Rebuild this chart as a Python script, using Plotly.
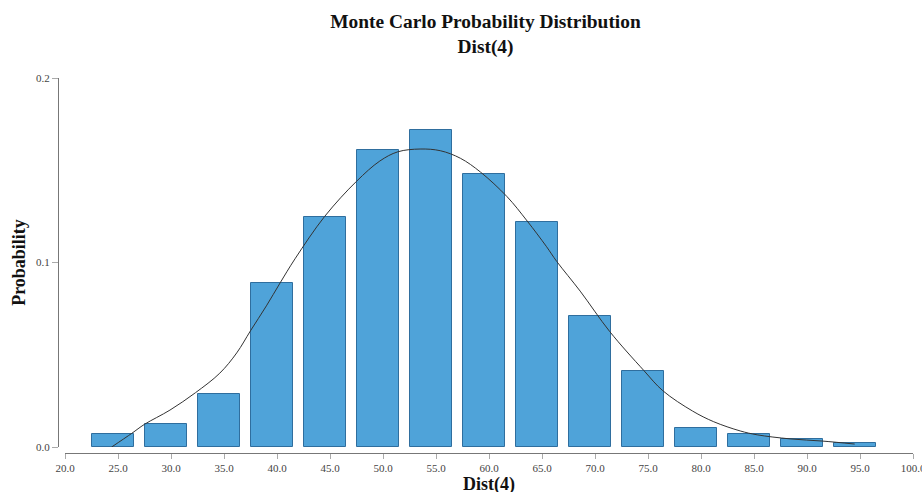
import plotly.graph_objects as go

# Histogram bins (bar centres) and probabilities
bin_centers = [24.5, 29.5, 34.5, 39.5, 44.5, 49.5, 54.5, 59.5, 64.5, 69.5, 74.5, 79.5, 84.5, 89.5, 94.5]
probabilities = [0.0070, 0.0123, 0.0287, 0.0890, 0.1248, 0.1610, 0.1716, 0.1480, 0.1220,
                 0.0708, 0.0410, 0.0101, 0.0070, 0.0043, 0.0020]

# Fitted distribution curve
fit_x = [24.4, 26.3, 27.5, 29.9, 32.3, 34.6, 36.2, 37.5, 39.0, 40.3, 41.7, 44.5, 47.5,
         49.7, 51.4, 53.5, 55.4, 57.3, 59.2, 61.7, 63.6, 65.4, 66.4, 68.6, 71.4, 74.6, 76.4,
         79.2, 81.2, 83.7, 85.3, 88.4, 91.5, 94.5]
fit_y = [0.0, 0.0074, 0.0123, 0.020, 0.0294, 0.040, 0.051, 0.063, 0.0765, 0.089, 0.102,
         0.125, 0.144, 0.155, 0.160, 0.1615, 0.1606, 0.1565, 0.149, 0.1357, 0.1225, 0.1088,
         0.1005, 0.0845, 0.0625, 0.0415, 0.0305, 0.0195, 0.0137, 0.0087, 0.0066, 0.0044,
         0.0032, 0.0016]

x_ticks = [20, 25, 30, 35, 40, 45, 50, 55, 60, 65, 70, 75, 80, 85, 90, 95, 100]
y_ticks = [0.0, 0.1, 0.2]

FONT = "Liberation Serif"

fig = go.Figure()
fig.add_trace(go.Bar(
    x=bin_centers, y=probabilities, width=4,
    marker=dict(color="#4fa3d9", line=dict(color="#2f6e9e", width=1)),
    showlegend=False, hoverinfo="x+y",
))
fig.add_trace(go.Scatter(
    x=fit_x, y=fit_y, mode="lines",
    line=dict(color="#333333", width=1, shape="spline", smoothing=1.0),
    showlegend=False,
))

fig.update_layout(
    width=922, height=492,
    margin=dict(l=58, r=9, t=78, b=39, autoexpand=False),
    paper_bgcolor="white", plot_bgcolor="white",
    font=dict(family=FONT, color="#444444", size=11),
    title=dict(
        text="<b>Monte Carlo Probability Distribution<br>Dist(4)</b>",
        x=0.5, xanchor="center", xref="paper",
        y=1 - 27.5 / 492, yanchor="middle", yref="container",
        font=dict(family=FONT, size=19.4, color="#111111"),
        automargin=False,
    ),
    xaxis=dict(
        domain=[7 / 855, 1], anchor="free", position=0,
        range=[20, 100], tickvals=x_ticks, tickformat=".1f",
        showgrid=False, zeroline=False, automargin=False,
        showline=True, linecolor="#777777", linewidth=1,
        ticks="outside", ticklen=5, tickcolor="#aaaaaa",
        ticklabeloverflow="allow",
        tickfont=dict(family=FONT, size=11, color="#444444"),
    ),
    yaxis=dict(
        domain=[6 / 375, 1], anchor="free", position=0,
        range=[0, 0.2], tickvals=y_ticks, tickformat=".1f",
        showgrid=False, zeroline=False, automargin=False,
        showline=True, linecolor="#777777", linewidth=1,
        ticks="outside", ticklen=6, tickcolor="#aaaaaa",
        tickfont=dict(family=FONT, size=11, color="#444444"),
        title=dict(text="<b>Probability</b>", standoff=4,
                   font=dict(family=FONT, size=18, color="#111111")),
    ),
    annotations=[dict(
        text="<b>Dist(4)</b>", xref="x domain", yref="paper",
        x=0.5, y=-(484 - 453) / 375, xanchor="center", yanchor="middle",
        showarrow=False, font=dict(family=FONT, size=18, color="#111111"),
    )],
    bargap=0,
)

fig.write_html(
    "out.html",
    config={"displayModeBar": False},
    post_script="document.body.style.margin='0';document.body.style.overflow='hidden';",
)
